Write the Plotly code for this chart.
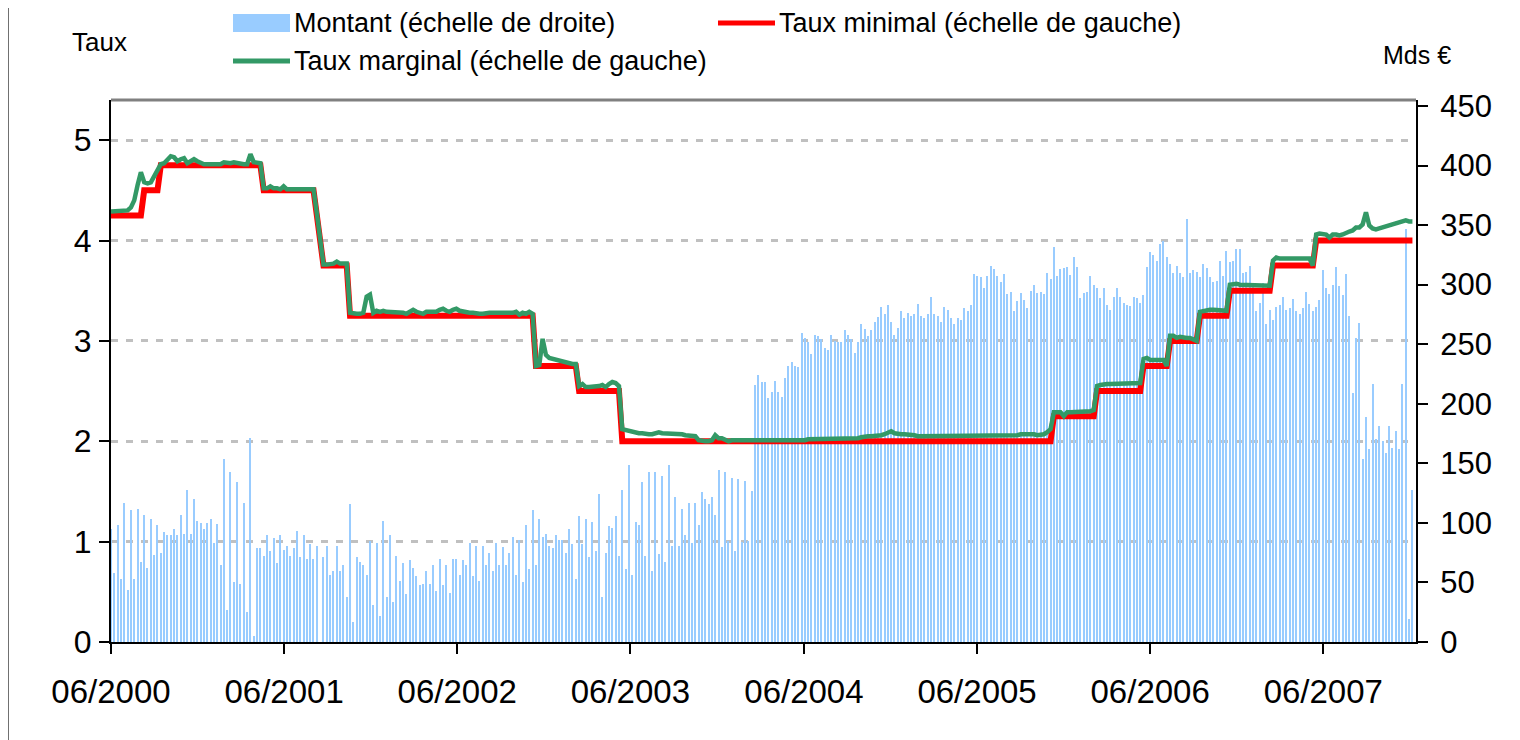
import pandas as pd
import plotly.graph_objects as go

# ---------------- data ----------------
start_date = "2000-06-28"          # first weekly operation
n_weeks = 393                      # weekly operations up to 2008-01-02

# Amount allotted (Mds EUR), weekly; None = no operation that week
montant = (
    [95,
     58, 98, 53, 117, 44, 111, 53, 112, 67, 107, 62, 103, 73, 98, 75, 92, 90, 90, 95, 90,
     107, 91, 128, 91, 120, 102, 100, 95, 100, 103, 83, 99, 65, 154, 27, 143, 50, 134, 49, 117,
     25, 171, 5, 79, 79, 72, 90, 76, 87, 66, 90, 77, 81, 72, 79, 93]
    + [71, 90, 70, 82, 70, 81, None, 71, 81, 56, 60, 81, 60, 65, 38, 116, 17, 71, 67, 65, 56,
       85, 31, 83, 22, 102, 38, 90, 34, 72, 51, 66, 40, 69, 62, 55, 48, 49, 60, 49, 65,
       43, 70, 48, 65, 41, 70, 70, 56, 69, 65, 83, 55, 81, 51, 81]
    + [65, 75, 60, 83, 65, 80, 65, 75, 88, 56, 86, 50, 98, 61, 111, 65, 103, 88, 91, 81,
       79, 90, 86, 86, 75, 95, 82, 53, 106, 82, 103, 71, 101, 76, 124, 38, 75, 97, 96, 106,
       72, 128, 61, 149, 56, 101, 98, 134, 72, 143, 60, 143, 74, 139, 67, 149]
    + [81, 122, 81, 112, 90, 117, 83, 117, 98, 126, 120, 116, 122, 107, 144, 80, 143, 85, 138, 76,
       137, 84, 135, 85, 127, 216, 224, 218, 218, 205, 210, 219, 210, 206, 222, 232, 235, 232, 231, 259,
       255, 252, 242, 258, 257, 254, 247, 245, 258, 253, 252, 252, 262, 258, 254, 243, 252]
    + [267, 263, 257, 262, 269, 273, 281, 275, 283, 269, 258, 264, 278, 272, 276, 274, 275, 284, 274, 272,
       275, 290, 275, 274, 269, 281, 279, 272, 267, 272, 270, 280, 278, 283, 309, 307, 306, 297, 307, 316,
       313, 307, 302, 309, 292, 294, 278, 286, 293, 287, 280, 295, 300, 293, 294, 292]
    + [310, 305, 332, 307, 313, 314, 315, 308, 323, 315, 289, 293, 294, 307, 300, 297, 289, 297, 283, 279,
       290, 297, 290, 285, 283, 282, 290, 289, 285, 291, 315, 327, 325, 320, 334, 337, 323, 317, 310, 316,
       310, 306, 355, 310, 312, 311, 306, 317, 314, 306, 302, 303, 320, 307, 328, 319]
    + [320, 330, 330, 310, 311, 316, 301, 278, 285, 301, 267, 279, 270, 281, 283, 290, 279, 280, 288, 278,
       275, 280, 294, 284, 278, 281, 287, 312, 297, 292, 300, 315, 299, 291, 309, 274, 209, 255, 268, 154,
       189, 162, 217, 170, 181, 169, 159, 181, 163, 177, 162, 217, 347, 19, 128]
)

# Marginal rate (%), weekly
taux_marginal = (
    [4.29, 4.29, 4.29, 4.30, 4.30, 4.30,
     4.33, 4.40, 4.55, 4.68, 4.58, 4.57, 4.58, 4.64, 4.68, 4.76,
     4.77, 4.81, 4.84, 4.83, 4.79, 4.81, 4.82, 4.77, 4.79, 4.81,
     4.79, 4.77, 4.76, 4.76, 4.76, 4.76, 4.76, 4.76,
     4.78, 4.77, 4.77, 4.78, 4.77, 4.77, 4.76, 4.76,
     4.86, 4.78, 4.77, 4.77,
     4.52, 4.52, 4.54, 4.52, 4.52, 4.51, 4.54, 4.51, 4.51, 4.51, 4.51]
    + [4.51, 4.51, 4.51, 4.51, 4.51, 4.27, None,
       3.76, 3.76, 3.76, 3.77, 3.79, 3.77, 3.77, 3.77,
       3.28, 3.27, 3.27, 3.27, 3.28, 3.44, 3.46,
       3.28, 3.30, 3.29, 3.30, 3.29, 3.29, 3.28, 3.28, 3.28, 3.28,
       3.27, 3.29, 3.31, 3.29, 3.28, 3.27, 3.29, 3.29, 3.28, 3.29,
       3.31, 3.32, 3.30, 3.29, 3.31, 3.32, 3.30, 3.29, 3.28, 3.28,
       3.28, 3.27, 3.27, 3.27]
    + [3.28, 3.28, 3.28, 3.28, 3.28, 3.28, 3.27, 3.28, 3.28, 3.29, 3.26, 3.28, 3.27, 3.29, 3.27,
       2.75, 2.76, 3.02, 2.86, 2.83, 2.82, 2.81, 2.80, 2.79, 2.78, 2.78, 2.77, 2.77,
       2.55, 2.57, 2.54, 2.54, 2.54, 2.54, 2.55, 2.56, 2.54, 2.57, 2.59, 2.58, 2.55,
       2.12, 2.11, 2.10, 2.10, 2.09, 2.08, 2.08, 2.07, 2.07, 2.07, 2.08, 2.09, 2.08, 2.08, 2.07]
    + [2.08, 2.07, 2.07, 2.07, 2.06, 2.06, 2.06, 2.05,
       2.01, 2.00, 2.00, 2.00, 2.01,
       2.06, 2.03, 2.03, 2.01,
       2.00, 2.01, 2.01, 2.00, 2.00, 2.01, 2.00, 2.00, 2.01, 2.00, 2.00, 2.00,
       2.01, 2.00, 2.00, 2.01, 2.00, 2.00, 2.01, 2.01, 2.00, 2.01, 2.01, 2.01,
       2.02, 2.02, 2.02, 2.02, 2.02, 2.02, 2.02,
       2.03, 2.03, 2.03, 2.03, 2.03, 2.03, 2.03, 2.03, 2.03]
    + [2.04, 2.05, 2.05, 2.05, 2.05, 2.05, 2.06, 2.07, 2.08, 2.10, 2.08, 2.07, 2.07, 2.07, 2.07, 2.07, 2.06]
    + [2.05] * 30
    + [2.06, 2.07, 2.07, 2.08, 2.07, 2.07, 2.06, 2.06, 2.07]
    + [2.09, 2.12, 2.29, 2.29, 2.29, 2.25, 2.29, 2.29, 2.29, 2.29, 2.29, 2.30, 2.30, 2.30, 2.31,
       2.55, 2.56, 2.57, 2.57, 2.57, 2.57, 2.57, 2.58, 2.58, 2.58, 2.58, 2.58, 2.58, 2.58,
       2.82, 2.83, 2.81, 2.81, 2.81, 2.81, 2.81, 2.75,
       3.05, 3.05, 3.03, 3.04, 3.03, 3.03, 3.03, 3.02, 3.00,
       3.29, 3.30, 3.30, 3.31, 3.31, 3.31, 3.31, 3.30, 3.30]
    + [3.56, 3.57, 3.57, 3.56, 3.56, 3.56, 3.55, 3.55, 3.55, 3.55, 3.55, 3.55, 3.55,
       3.80, 3.83, 3.82, 3.82, 3.83, 3.82, 3.82, 3.82, 3.82, 3.82, 3.82, 3.82, 3.75,
       4.06, 4.07, 4.06, 4.06, 4.03, 4.06, 4.06, 4.05, 4.06, 4.08,
       4.09, 4.10, 4.13, 4.13, 4.16, 4.28, 4.15, 4.12, 4.11, 4.12,
       4.13, 4.14, 4.15, 4.16, 4.17, 4.18, 4.19, 4.20, 4.19, 4.19]
)

# Minimum bid rate (%): dates of change and new level
taux_min_dates = ["2000-06-28", "2000-09-06", "2000-10-11", "2001-05-16", "2001-09-05",
                  "2001-09-19", "2001-11-14", "2002-12-11", "2003-03-12", "2003-06-11",
                  "2005-12-07", "2006-03-08", "2006-06-14", "2006-08-09", "2006-10-11",
                  "2006-12-13", "2007-03-14", "2007-06-13"]
taux_min_levels = [4.25, 4.50, 4.75, 4.50, 4.25, 3.75, 3.25, 2.75, 2.50, 2.00,
                   2.25, 2.50, 2.75, 3.00, 3.25, 3.50, 3.75, 4.00]

tick_dates = ["2000-06-28", "2001-06-28", "2002-06-28", "2003-06-28",
              "2004-06-28", "2005-06-28", "2006-06-28", "2007-06-28"]
tick_labels = ["06/2000", "06/2001", "06/2002", "06/2003",
               "06/2004", "06/2005", "06/2006", "06/2007"]
left_ticks = [0, 1, 2, 3, 4, 5]
right_ticks = [0, 50, 100, 150, 200, 250, 300, 350, 400, 450]

series_names = ["Montant (échelle de droite)",
                "Taux minimal (échelle de gauche)",
                "Taux marginal (échelle de gauche)"]

# ---------------- build ----------------
assert len(montant) == n_weeks, len(montant)
assert len(taux_marginal) == n_weeks, len(taux_marginal)
dates = pd.date_range(start_date, periods=n_weeks, freq="7D")

chg = pd.Series(taux_min_levels, index=pd.to_datetime(taux_min_dates))
taux_minimal = chg.reindex(dates, method="ffill").tolist()
taux_minimal = [None if m is None else v for v, m in zip(taux_minimal, taux_marginal)]

FONT = "Liberation Sans, Arial, sans-serif"
BLUE = "#99CCFF"
RED = "#FF0000"
GREEN = "#339966"

# plot area in page pixels (page shows the figure with an 8px body offset)
OFF = 8
FIG_W, FIG_H = 1520, 740
L, R, T, B = 111, 1416, 100, 642
W, H = R - L, B - T


def px(x):
    return (x - L) / W


def py(y):
    return (B - y) / H


fig = go.Figure()
fig.add_trace(go.Bar(
    x=dates, y=montant, name=series_names[0],
    marker=dict(color=BLUE, line=dict(width=0)),
    width=2.3 * 86400000, yaxis="y", showlegend=False,
))
fig.add_trace(go.Scatter(
    x=dates, y=taux_minimal, name=series_names[1],
    mode="lines", line=dict(color=RED, width=6), connectgaps=True, yaxis="y2",
    showlegend=False,
))
fig.add_trace(go.Scatter(
    x=dates, y=taux_marginal, name=series_names[2],
    mode="lines", line=dict(color=GREEN, width=4.5), connectgaps=True, yaxis="y2",
    showlegend=False,
))

# legend drawn as swatches + text (Excel-style long swatches)
ROW1, ROW2 = 23, 61
legend_shapes = [
    dict(type="rect", xref="paper", yref="paper", x0=px(233), x1=px(290),
         y0=py(ROW1 + 9), y1=py(ROW1 - 9), fillcolor=BLUE, line=dict(width=0)),
    dict(type="line", xref="paper", yref="paper", x0=px(718), x1=px(775),
         y0=py(ROW1), y1=py(ROW1), line=dict(color=RED, width=5)),
    dict(type="line", xref="paper", yref="paper", x0=px(233), x1=px(290),
         y0=py(ROW2), y1=py(ROW2), line=dict(color=GREEN, width=5)),
]
legend_texts = [
    dict(text=series_names[0], x=px(293), y=py(ROW1)),
    dict(text=series_names[1], x=px(778), y=py(ROW1)),
    dict(text=series_names[2], x=px(293), y=py(ROW2)),
]
annotations = [
    dict(text=t["text"], xref="paper", yref="paper", x=t["x"], y=t["y"],
         xanchor="left", yanchor="middle", showarrow=False, borderpad=0,
         font=dict(size=27, family=FONT, color="black"))
    for t in legend_texts
]
annotations += [
    dict(text="Taux", xref="paper", yref="paper", x=px(70), y=py(42),
         xanchor="left", yanchor="middle", showarrow=False,
         font=dict(size=26, family=FONT, color="black")),
    dict(text="Mds €", xref="paper", yref="paper", x=px(1381), y=py(55),
         xanchor="left", yanchor="middle", showarrow=False,
         font=dict(size=25, family=FONT, color="black")),
]

fig.update_layout(
    width=FIG_W, height=FIG_H,
    margin=dict(l=L - OFF, r=FIG_W - (R - OFF), t=T - OFF, b=FIG_H - (B - OFF),
                autoexpand=False),
    paper_bgcolor="white", plot_bgcolor="white",
    font=dict(family=FONT, color="black"),
    bargap=0,
    showlegend=False,
    xaxis=dict(
        type="date", range=["2000-06-28", "2008-01-09 12:00"],
        tickvals=tick_dates, ticktext=tick_labels,
        ticks="outside", ticklen=10, tickwidth=1.5, tickcolor="black",
        showline=True, linecolor="black", linewidth=2,
        showgrid=False, zeroline=False,
        tickfont=dict(size=33, family=FONT), ticklabelstandoff=9,
    ),
    yaxis=dict(
        side="right", range=[0, 455], tickvals=right_ticks,
        ticks="outside", ticklen=10, tickwidth=1.5, tickcolor="black",
        showline=True, linecolor="black", linewidth=2,
        showgrid=False, zeroline=False,
        tickfont=dict(size=31, family=FONT), ticklabelstandoff=6,
    ),
    yaxis2=dict(
        overlaying="y", side="left", range=[0, 5.4], tickvals=left_ticks,
        ticks="outside", ticklen=10, tickwidth=1.5, tickcolor="black",
        showline=True, linecolor="black", linewidth=2,
        showgrid=True, gridcolor="#C0C0C0", gridwidth=2.5, griddash="7px,8px",
        zeroline=False,
        tickfont=dict(size=32, family=FONT), ticklabelstandoff=1,
    ),
    yaxis3=dict(
        overlaying="y", side="right", range=[0, 455], tickvals=right_ticks,
        ticks="inside", ticklen=10, tickwidth=1.5, tickcolor="black",
        showticklabels=False, showline=False, showgrid=False, zeroline=False,
    ),
    annotations=annotations,
    shapes=legend_shapes + [
        dict(type="line", xref="paper", yref="paper", x0=0, x1=1, y0=1, y1=1,
             line=dict(color="#808080", width=3)),
        dict(type="line", xref="paper", yref="paper", x0=px(8), x1=px(8),
             y0=py(760), y1=py(-20), line=dict(color="#404040", width=1.5)),
    ],
)

fig.write_html("out.html")
